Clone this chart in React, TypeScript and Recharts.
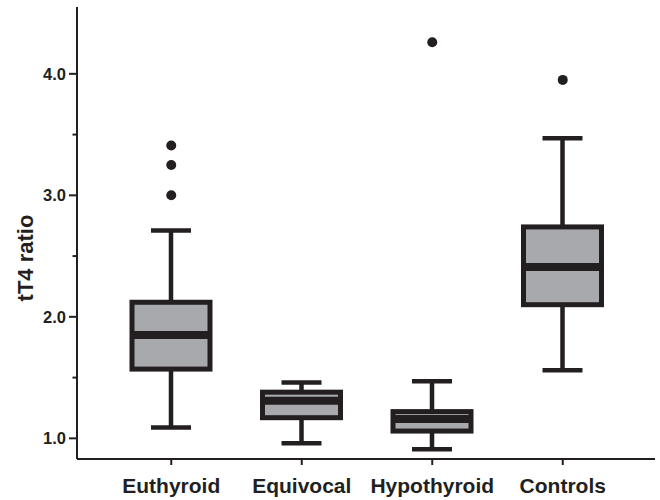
import React from 'react';
import { Bar, ComposedChart, Label, Scatter, XAxis, YAxis } from 'recharts';

const categories = ['Euthyroid', 'Equivocal', 'Hypothyroid', 'Controls'];
const mins = [1.09, 0.96, 0.91, 1.56];
const q1s = [1.57, 1.17, 1.06, 2.1];
const medians = [1.85, 1.31, 1.16, 2.41];
const q3s = [2.12, 1.38, 1.22, 2.74];
const maxs = [2.71, 1.46, 1.47, 3.47];

// outliers per category (up to three each)
const outliers1 = [3.41, null, 4.26, 3.95];
const outliers2 = [3.25, null, null, null];
const outliers3 = [3.0, null, null, null];

const yTicks = [1, 1.5, 2, 2.5, 3, 3.5, 4];

const INK = '#231f20';
const BOX_FILL = '#a7a9ac';
const FONT = '"Liberation Sans", Arial, Helvetica, sans-serif';

const data = categories.map((name, i) => ({
  name,
  min: mins[i],
  q1: q1s[i],
  median: medians[i],
  q3: q3s[i],
  max: maxs[i],
  o1: outliers1[i],
  o2: outliers2[i],
  o3: outliers3[i],
}));

function BoxShape(props: any) {
  const { x, y, width, height, payload } = props;
  if (!payload || !height) return null;
  const top = Math.min(y, y + height);
  const bottom = Math.max(y, y + height);
  const pxPerUnit = (bottom - top) / (payload.max - payload.min);
  const toY = (v: number) => bottom - (v - payload.min) * pxPerUnit;
  const cx = x + width / 2;
  const capHalf = 20;
  const yq1 = toY(payload.q1);
  const yq3 = toY(payload.q3);
  const ymed = toY(payload.median);
  return (
    <g>
      <line x1={cx} x2={cx} y1={top} y2={yq3} stroke={INK} strokeWidth={4.5} />
      <line x1={cx} x2={cx} y1={yq1} y2={bottom} stroke={INK} strokeWidth={4.5} />
      <line x1={cx - capHalf} x2={cx + capHalf} y1={top} y2={top} stroke={INK} strokeWidth={4.5} />
      <line x1={cx - capHalf} x2={cx + capHalf} y1={bottom} y2={bottom} stroke={INK} strokeWidth={4.5} />
      <rect x={x} y={yq3} width={width} height={yq1 - yq3} fill={BOX_FILL} stroke={INK} strokeWidth={5} />
      <line x1={x} x2={x + width} y1={ymed} y2={ymed} stroke={INK} strokeWidth={8} />
    </g>
  );
}

function Dot(props: any) {
  const { cx, cy, payload, k } = props;
  if (!payload || payload[k] == null || !Number.isFinite(cx) || !Number.isFinite(cy)) return null;
  return <circle cx={cx} cy={cy} r={5} fill={INK} />;
}

function YTick(props: any) {
  const { y, payload } = props;
  const axisX = 77;
  const major = Number.isInteger(payload.value);
  return (
    <g>
      <line x1={axisX - (major ? 8 : 4.5)} x2={axisX} y1={y} y2={y} stroke={INK} strokeWidth={2} />
      {major && (
        <text x={axisX - 11} y={y} dy={6} textAnchor="end" fontFamily={FONT} fontWeight="bold" fontSize={16.5} fill={INK}>
          {payload.value.toFixed(1)}
        </text>
      )}
    </g>
  );
}

function XTick(props: any) {
  const { x, y, payload } = props;
  return (
    <g>
      <line x1={x} x2={x} y1={y - 8} y2={y - 2} stroke={INK} strokeWidth={2} />
      <text x={x} y={y + 26} textAnchor="middle" fontFamily={FONT} fontWeight="bold" fontSize={21} fill={INK}>
        {payload.value}
      </text>
    </g>
  );
}

export default function App() {
  return (
    <div style={{ width: 660, height: 500, background: '#fff' }}>
      <style>{'body{margin:0}'}</style>
      <ComposedChart
        width={660}
        height={500}
        data={data}
        margin={{ top: 7, right: 5, bottom: 0, left: 0 }}
      >
        <XAxis
          dataKey="name"
          type="category"
          padding={{ left: 29, right: 27 }}
          height={41}
          axisLine={{ stroke: INK, strokeWidth: 2 }}
          tickLine={false}
          tick={<XTick />}
          interval={0}
        />
        <YAxis
          type="number"
          domain={[0.83, 4.55]}
          ticks={yTicks}
          width={77}
          axisLine={{ stroke: INK, strokeWidth: 2 }}
          tickLine={false}
          tick={<YTick />}
          allowDataOverflow
        >
          <Label
            content={() => (
              <text
                x={33}
                y={258}
                transform="rotate(-90 33 258)"
                textAnchor="middle"
                fontFamily={FONT}
                fontWeight="bold"
                fontSize={22}
                fill={INK}
              >
                tT4 ratio
              </text>
            )}
          />
        </YAxis>
        <Bar
          dataKey={(d: any) => [d.min, d.max]}
          barSize={78}
          shape={<BoxShape />}
          isAnimationActive={false}
        />
        <Scatter dataKey="o1" shape={<Dot k="o1" />} isAnimationActive={false} />
        <Scatter dataKey="o2" shape={<Dot k="o2" />} isAnimationActive={false} />
        <Scatter dataKey="o3" shape={<Dot k="o3" />} isAnimationActive={false} />
      </ComposedChart>
    </div>
  );
}
